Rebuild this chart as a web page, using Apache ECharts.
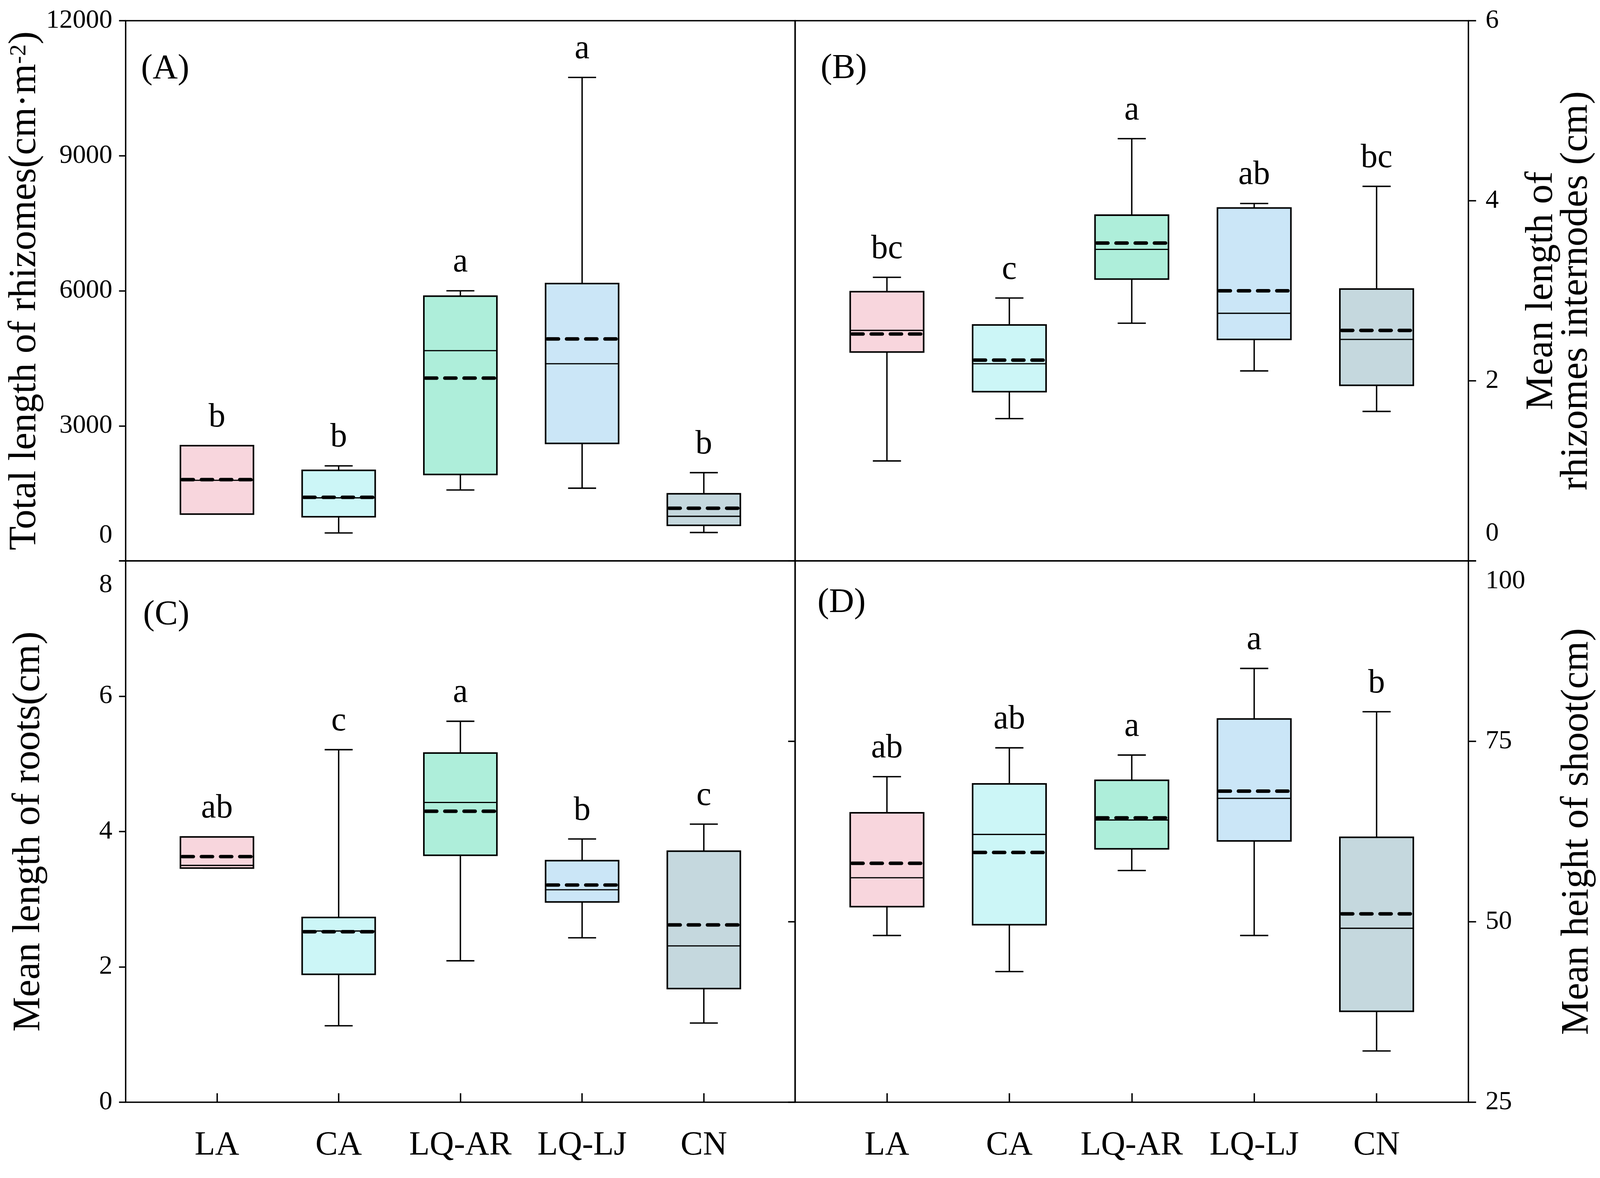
<!DOCTYPE html>
<html>
<head>
<meta charset="utf-8">
<title>Rhizome, root and shoot traits</title>
<script src="https://cdn.jsdelivr.net/npm/echarts@6.0.0/dist/echarts.min.js"></script>
<style>
  html, body { margin: 0; padding: 0; background: #fff; overflow: hidden; }
  #chart { width: 100vw; height: 100vh; }
</style>
</head>
<body>
<div id="chart"></div>
<script>
const categories = ['LA', 'CA', 'LQ-AR', 'LQ-LJ', 'CN'];

// boxes per site: [min, Q1, median, Q3, max]; means drawn as dashed lines
const rhizomeTotalBox = [
    [1040, 1040, 1790, 2560, 2560],
    [620, 980, 1400, 2010, 2110],
    [1575, 1920, 4670, 5880, 6000],
    [1615, 2610, 4380, 6160, 10740],
    [630, 790, 990, 1490, 1960]
];
const rhizomeTotalMean = [1805, 1412, 4060, 4930, 1170];
const rhizomeTotalLetters = ['b', 'b', 'a', 'a', 'b'];

const internodeBox = [
    [1.11, 2.32, 2.56, 2.99, 3.15],
    [1.58, 1.88, 2.19, 2.62, 2.92],
    [2.64, 3.13, 3.46, 3.84, 4.69],
    [2.11, 2.46, 2.75, 3.92, 3.97],
    [1.66, 1.95, 2.46, 3.02, 4.16]
];
const internodeMean = [2.52, 2.23, 3.53, 3.00, 2.56];
const internodeLetters = ['bc', 'c', 'a', 'ab', 'bc'];

const rootBox = [
    [3.46, 3.46, 3.50, 3.92, 3.92],
    [1.13, 1.89, 2.53, 2.73, 5.21],
    [2.09, 3.65, 4.43, 5.16, 5.63],
    [2.43, 2.96, 3.14, 3.57, 3.89],
    [1.17, 1.68, 2.31, 3.71, 4.11]
];
const rootMean = [3.63, 2.52, 4.30, 3.21, 2.62];
const rootLetters = ['ab', 'c', 'a', 'b', 'c'];

const shootBox = [
    [48.1, 52.1, 56.1, 65.1, 70.1],
    [43.1, 49.6, 62.1, 69.1, 74.1],
    [57.1, 60.1, 64.1, 69.6, 73.1],
    [48.1, 61.2, 67.1, 78.1, 85.1],
    [32.1, 37.6, 49.1, 61.7, 79.1]
];
const shootMean = [58.1, 59.6, 64.4, 68.1, 51.1];
const shootLetters = ['ab', 'ab', 'a', 'a', 'b'];

const siteColors = ['#F8D6DD', '#CCF6F7', '#AEEEDA', '#CBE6F7', '#C5D8DE'];
const FONT = '"Liberation Serif", "Times New Roman", serif';

// layout is written for a 4584 x 3016 page and scaled to the real viewport
const container = document.getElementById('chart');
const sx = container.clientWidth / 4584;
const sy = container.clientHeight / 3016;
const s = Math.min(sx, sy);

const panels = [
    {
        label: '(A)', labelAt: [404, 177], box: rhizomeTotalBox, mean: rhizomeTotalMean, letters: rhizomeTotalLetters,
        grid: [360, 53, 1918, 1383],
        yMin: 0, yMax: 12000, yStep: 3000, side: 'left', bottomRow: false,
        name: 'Total length of rhizomes(cm·m{sup|-2})', nameGap: 228,
        shift: { value: 0, by: -65 }
    },
    {
        label: '(B)', labelAt: [2351, 176], box: internodeBox, mean: internodeMean, letters: internodeLetters,
        grid: [2278, 53, 1929, 1383],
        yMin: 0, yMax: 6, yStep: 2, side: 'right', bottomRow: false,
        name: 'Mean length of\nrhizomes internodes (cm)', nameGap: 160,
        shift: { value: 0, by: -70 }
    },
    {
        label: '(C)', labelAt: [410, 1575], box: rootBox, mean: rootMean, letters: rootLetters,
        grid: [360, 1436, 1918, 1386],
        yMin: 0, yMax: 8, yStep: 2, side: 'left', bottomRow: true,
        name: 'Mean length of roots(cm)', nameGap: 228,
        shift: { value: 8, by: 62 }
    },
    {
        label: '(D)', labelAt: [2342, 1544], box: shootBox, mean: shootMean, letters: shootLetters,
        grid: [2278, 1436, 1929, 1386],
        yMin: 25, yMax: 100, yStep: 25, side: 'right', bottomRow: true,
        name: 'Mean height of shoot(cm)', nameGap: 262,
        shift: { value: 100, by: 52 }, innerTicks: true
    }
];

function makeRenderer(letters) {
    return function (params, api) {
        const x = api.value(0);
        const mn = api.value(1), q1 = api.value(2), md = api.value(3);
        const q3 = api.value(4), mx = api.value(5), mean = api.value(6);
        const halfBox = 0.3, halfCap = 0.115;
        const tl = api.coord([x - halfBox, q3]);
        const br = api.coord([x + halfBox, q1]);
        const cx = api.coord([x, 0])[0];
        const capL = api.coord([x - halfCap, 0])[0];
        const capR = api.coord([x + halfCap, 0])[0];
        const yMax = api.coord([x, mx])[1];
        const yMin = api.coord([x, mn])[1];
        const yMed = api.coord([x, md])[1];
        const yMean = api.coord([x, mean])[1];
        const thin = { stroke: '#000', lineWidth: 4 * s };
        const idx = params.dataIndex;
        return {
            type: 'group',
            children: [
                { type: 'line', shape: { x1: cx, y1: yMax, x2: cx, y2: tl[1] }, style: thin },
                { type: 'line', shape: { x1: cx, y1: br[1], x2: cx, y2: yMin }, style: thin },
                { type: 'line', shape: { x1: capL, y1: yMax, x2: capR, y2: yMax }, style: thin },
                { type: 'line', shape: { x1: capL, y1: yMin, x2: capR, y2: yMin }, style: thin },
                {
                    type: 'rect',
                    shape: { x: tl[0], y: tl[1], width: br[0] - tl[0], height: br[1] - tl[1] },
                    style: { fill: siteColors[idx], stroke: '#000', lineWidth: 4.5 * s }
                },
                { type: 'line', shape: { x1: tl[0], y1: yMed, x2: br[0], y2: yMed }, style: { stroke: '#000', lineWidth: 3.5 * s } },
                {
                    type: 'line',
                    shape: { x1: tl[0] + 5 * sx, y1: yMean, x2: br[0] - 5 * sx, y2: yMean },
                    style: { stroke: '#000', lineWidth: 10 * s, lineDash: [32 * sx, 23 * sx], lineCap: 'round' }
                },
                {
                    type: 'text',
                    x: cx, y: yMax - 72 * sy,
                    style: {
                        text: letters[idx], fill: '#000', font: Math.round(96 * s) + 'px ' + FONT,
                        textAlign: 'center', textVerticalAlign: 'middle'
                    }
                }
            ]
        };
    };
}

const grids = [], xAxes = [], yAxes = [], series = [], graphics = [];

panels.forEach(function (p, i) {
    grids.push({
        show: true, borderColor: '#000', borderWidth: 4 * s, backgroundColor: 'transparent',
        outerBoundsMode: 'none', containLabel: false,
        left: p.grid[0] * sx, top: p.grid[1] * sy, width: p.grid[2] * sx, height: p.grid[3] * sy
    });

    xAxes.push({
        type: 'value', gridIndex: i, min: 0.25, max: 5.75,
        splitLine: { show: false },
        axisLine: { show: false },
        axisTick: p.bottomRow
            ? { show: true, inside: true, length: 23 * sy, customValues: [1, 2, 3, 4, 5], lineStyle: { color: '#000', width: 4 * s } }
            : { show: false },
        axisLabel: p.bottomRow
            ? {
                show: true, customValues: [1, 2, 3, 4, 5], margin: 68 * sy,
                fontFamily: FONT, fontSize: 96 * s, color: '#000',
                formatter: function (v) { return categories[Math.round(v) - 1]; }
            }
            : { show: false }
    });

    const by = p.shift.by * sy;
    const pad = by < 0 ? [0, 0, -2 * by, 0] : [2 * by, 0, 0, 0];
    const yIndex = yAxes.length;
    yAxes.push({
        type: 'value', gridIndex: i, position: p.side,
        min: p.yMin, max: p.yMax, interval: p.yStep,
        splitLine: { show: false },
        axisLine: { show: false },
        axisTick: { show: true, length: (p.side === 'left' ? 19 : 22) * sx, lineStyle: { color: '#000', width: 4 * s } },
        axisLabel: {
            show: true, showMinLabel: true, showMaxLabel: true,
            margin: (p.side === 'left' ? 38 : 49) * sx,
            fontFamily: FONT, fontSize: 76 * s, color: '#000',
            formatter: function (v) { return v === p.shift.value ? '{s|' + v + '}' : String(v); },
            rich: { s: { fontFamily: FONT, fontSize: 76 * s, color: '#000', padding: pad } }
        },
        // rotated names run along the vertical, so they follow the vertical scale
        name: p.name, nameLocation: 'middle', nameRotate: 90, nameGap: p.nameGap * sx,
        nameTextStyle: {
            fontFamily: FONT, fontSize: 100 * sy, color: '#000', lineHeight: 100 * sx,
            rich: { sup: { fontFamily: FONT, fontSize: 60 * sy, color: '#000', verticalAlign: 'top', lineHeight: 100 * sx } }
        }
    });

    if (p.innerTicks) {
        // ticks on the shared middle line, belonging to panel D
        yAxes.push({
            type: 'value', gridIndex: i, position: 'left',
            min: p.yMin, max: p.yMax, interval: p.yStep,
            splitLine: { show: false }, axisLine: { show: false },
            axisTick: { show: true, length: 20 * sx, lineStyle: { color: '#000', width: 4 * s } },
            axisLabel: { show: false }
        });
    }

    series.push({
        type: 'custom', name: p.label,
        xAxisIndex: i, yAxisIndex: yIndex,
        renderItem: makeRenderer(p.letters),
        encode: { x: 0, y: [1, 2, 3, 4, 5, 6] },
        data: p.box.map(function (b, k) { return [k + 1].concat(b, [p.mean[k]]); }),
        clip: false, silent: true
    });

    graphics.push({
        type: 'text', x: p.labelAt[0] * sx, y: p.labelAt[1] * sy,
        style: { text: p.label, font: Math.round(100 * s) + 'px ' + FONT, fill: '#000', textVerticalAlign: 'middle' }
    });
});

const chart = echarts.init(container);
chart.setOption({
    animation: false,
    backgroundColor: '#fff',
    grid: grids,
    xAxis: xAxes,
    yAxis: yAxes,
    series: series,
    graphic: graphics
});

window.addEventListener('resize', function () {
    chart.resize();
});
</script>
</body>
</html>
